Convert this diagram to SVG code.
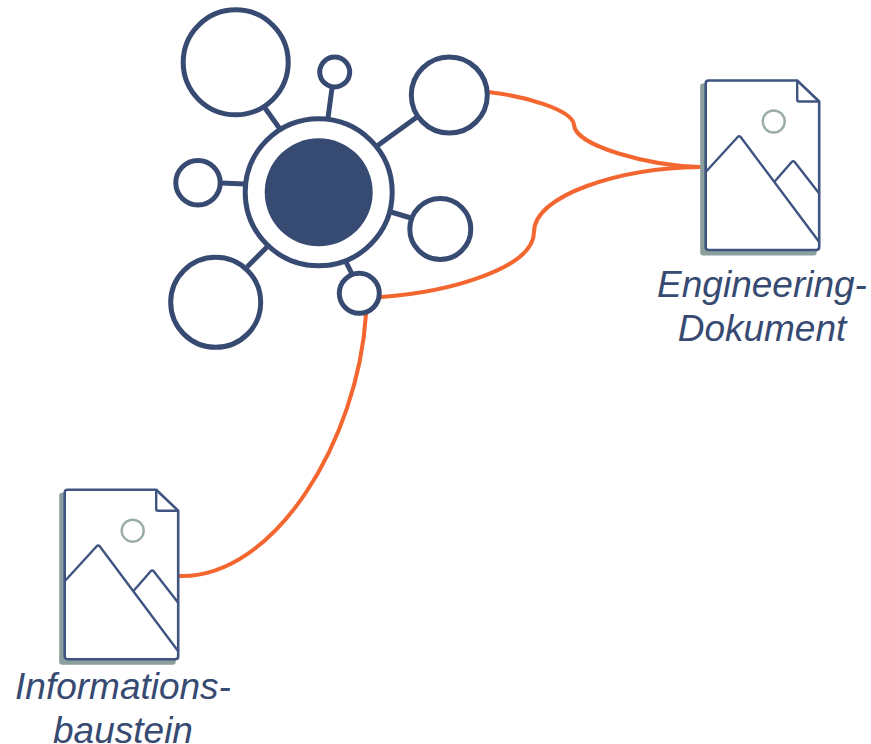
<svg xmlns="http://www.w3.org/2000/svg" width="871" height="744" viewBox="0 0 871 744">
<style>
.n{fill:#fff;stroke:#374a72;stroke-width:5}
.c{fill:none;stroke:#f4662f;stroke-width:4;stroke-linecap:round}
.d{fill:#fff;stroke:#3f5480;stroke-width:2.600;stroke-linejoin:round}
.m{fill:none;stroke:#3f5480;stroke-width:2.400;stroke-linejoin:round}
.t{font-family:"Liberation Sans",Arial,sans-serif;font-style:italic;font-size:37px;fill:#374a72;text-anchor:middle}
</style>
<defs>
<g id="doc">
<path fill="#8b9f9c" d="M-2 3H-3Q-5.500 3 -5.500 6V172Q-5.500 175 -2.500 175H108Q111 175 111 172V165H0V3Z"/>
<path class="d" d="M3 0H91.500L113.500 21V166.500Q113.500 169.500 110.500 169.500H3Q0 169.500 0 166.500V3Q0 0 3 0Z"/>
<path class="m" d="M91.500 0V19Q91.500 21 93.500 21H113.500"/>
<circle cx="68" cy="41" r="11" fill="none" stroke="#9aaca8" stroke-width="2.400"/>
<path class="m" d="M0 91.500L32 56.500Q33.500 55 35 56.500L113.500 161.500"/>
<path class="m" d="M68.500 101.500L86 81.500Q87.500 80 89 81.500L113.500 113"/>
</g>
</defs>
<g id="connectors">
<path class="c" d="M488 92C525 96 573 110 574 125C575 146 650 166 700 167"/>
<path class="c" d="M381 297C450 292 534 268 534 232C534 195 620 168 700 167"/>
<path class="c" d="M366 314C358 440 275 578 180 576"/>
<g stroke="#374a72" stroke-width="5" fill="none">
<path d="M265 108L280 129"/>
<path d="M332 88L328 118"/>
<path d="M417 117L377 146"/>
<path d="M221 183L245 184"/>
<path d="M391 212L411 218"/>
<path d="M247 267L268 246"/>
<path d="M346 262L352 274"/>
</g>
</g>
<g id="hub"><circle class="n" cx="318.700" cy="192.300" r="73.500"/><circle cx="318.700" cy="192.300" r="54" fill="#374a72"/></g>
<g id="node-top-left"><circle class="n" cx="235.700" cy="62.300" r="52.500"/></g>
<g id="node-top"><circle class="n" cx="334.700" cy="72" r="15"/></g>
<g id="node-top-right"><circle class="n" cx="449.300" cy="95" r="38"/></g>
<g id="node-left"><circle class="n" cx="198" cy="182.700" r="22.200"/></g>
<g id="node-right"><circle class="n" cx="440.300" cy="229" r="30.500"/></g>
<g id="node-bottom-left"><circle class="n" cx="215.700" cy="302.300" r="45"/></g>
<g id="node-bottom"><circle class="n" cx="359.300" cy="293.300" r="20"/></g>
<g id="engineering-dokument"><use href="#doc" x="705.700" y="80.500"/>
<text class="t" x="762" y="297">Engineering-</text><text class="t" x="762" y="341">Dokument</text></g>
<g id="informationsbaustein"><use href="#doc" x="64.700" y="489.700"/>
<text class="t" x="123" y="699">Informations-</text><text class="t" x="123" y="743">baustein</text></g>
</svg>
